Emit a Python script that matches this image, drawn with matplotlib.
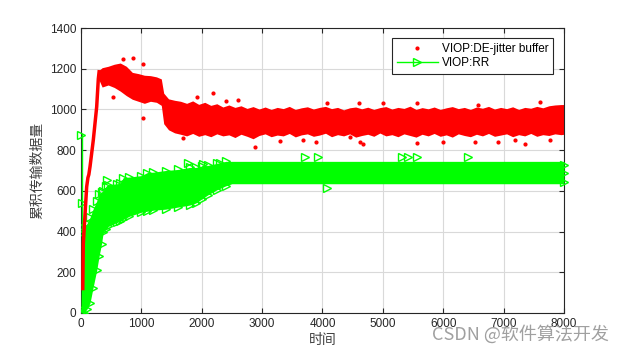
import matplotlib
matplotlib.use('Agg')
import matplotlib.pyplot as plt
from matplotlib.lines import Line2D

plt.rcParams['font.family'] = ['Liberation Sans', 'Noto Sans CJK SC', 'DejaVu Sans']

# red series: steep rise, then a noisy band (upper / lower edge)
rise_x = [30, 38, 60, 94, 115, 130, 150, 204, 260, 287, 300]
rise_y = [120, 340, 450, 620, 665, 680, 720, 850, 1013, 1150, 1185]

red_x = [290, 350, 450, 550, 650, 750, 850, 950, 1050, 1150, 1250, 1330, 1370, 1450, 1550,
         1650, 1750, 1850, 1950, 2050, 2150, 2250, 2350, 2450, 2550, 2650, 2750, 2850, 2950,
         3050, 3150, 3250, 3350, 3450, 3550, 3650, 3750, 3850, 3950, 4050, 4150, 4250, 4350,
         4450, 4550, 4650, 4750, 4850, 4950, 5050, 5150, 5250, 5350, 5450, 5550, 5650, 5750,
         5850, 5950, 6050, 6150, 6250, 6350, 6450, 6550, 6650, 6750, 6850, 6950, 7050, 7150,
         7250, 7350, 7450, 7550, 7650, 7750, 7850, 7950, 8000]
red_hi = [1190, 1205, 1212, 1222, 1228, 1212, 1182, 1176, 1168, 1166, 1160, 1150, 1080, 1052, 1045,
          1040, 1030, 1042, 1025, 1035, 1020, 1028, 1012, 1022, 1010, 1018, 1005, 1014, 1002,
          1012, 1000, 1010, 1004, 1015, 1000, 1008, 1013, 1002, 1010, 1015, 1004, 1010, 998,
          1008, 1012, 1003, 1011, 1000, 1009, 1014, 1002, 1010, 1005, 1016, 1000, 1009, 1003,
          1012, 1000, 1008, 1014, 1004, 1010, 1000, 1012, 1006, 1015, 1002, 1010, 1004, 1013,
          1000, 1010, 1006, 1015, 1008, 1018, 1022, 1024, 1024]
red_lo = [1150, 1110, 1120, 1108, 1090, 1068, 1050, 1040, 1030, 1040, 1035, 1020, 930, 900, 885,
          878, 870, 882, 868, 876, 866, 880, 870, 875, 862, 878, 868, 856, 872, 880, 866, 874,
          870, 882, 865, 875, 880, 868, 874, 883, 866, 876, 870, 880, 864, 872, 878, 868, 884,
          870, 876, 866, 880, 872, 864, 878, 870, 882, 868, 875, 864, 880, 872, 866, 878, 870,
          882, 868, 874, 880, 866, 876, 870, 882, 868, 876, 872, 880, 876, 878]

red_out_x = [700, 866, 1032, 535, 1032, 1694, 1915, 2190, 2604, 2880, 3680, 4068, 4454,
             4608, 4619, 4664, 5558, 5558, 6523, 6578, 7185, 7351, 7765, 3300, 6000, 2400,
             5000, 7600, 3900, 6900]
red_out_y = [1246, 1251, 1223, 1062, 956, 860, 1062, 1079, 1046, 817, 850, 1030, 866,
             1033, 838, 830, 1030, 833, 841, 1022, 850, 830, 850, 845, 840, 1040,
             1032, 1036, 842, 838]

# green series: band between lower / upper edge
green_x = [0, 30, 50, 100, 150, 200, 260, 300, 340, 370, 420, 450, 600, 650, 700, 800, 1000,
           1100, 1200, 1400, 1600, 1800, 1900, 2000, 2100, 2250, 2400, 2500, 2600, 8000]
green_lo = [0, 0, 0, 20, 50, 125, 210, 280, 340, 400, 415, 425, 445, 450, 460, 475, 495,
            500, 505, 510, 520, 530, 540, 560, 580, 605, 625, 635, 635, 635]
green_hi = [20, 400, 420, 440, 470, 510, 550, 585, 595, 600, 625, 630, 635, 638, 665, 668, 675,
            690, 692, 700, 705, 715, 715, 720, 725, 735, 745, 745, 745, 745]

spike_x = [10, 10]
spike_y = [0, 880]

green_out_x = [5, 10, 425, 1777, 2015, 2301, 3709, 3924, 5310, 5414, 5558, 6412, 4068,
               8000, 8000, 8000]
green_out_y = [875, 540, 653, 737, 732, 737, 768, 768, 768, 768, 768, 768, 612,
               727, 686, 645]

red = '#ff0000'
green = '#00ff00'

fig = plt.figure(figsize=(6.24, 3.56), dpi=100)
ax = fig.add_axes([0.1298, 0.1208, 0.774, 0.8005])

ax.fill_between(red_x, red_lo, red_hi, color=red, lw=0, zorder=2)
ax.plot(rise_x, rise_y, color=red, lw=2.5, zorder=4)
ax.plot(red_out_x, red_out_y, '.', color=red, ms=4, zorder=2)

ax.fill_between(green_x, green_lo, green_hi, color=green, lw=0, zorder=3)
ax.plot(spike_x, spike_y, color=green, lw=1, zorder=3)
edge = [i for i, v in enumerate(green_x) if v <= 2400]
ax.plot([green_x[i] for i in edge], [green_lo[i] for i in edge], '>', mfc='none', mec=green,
        ms=6, mew=1, zorder=3)
ax.plot([green_x[i] for i in edge], [green_hi[i] for i in edge], '>', mfc='none', mec=green,
        ms=6, mew=1, zorder=3)
ax.plot(green_out_x, green_out_y, '>', mfc='none', mec=green, ms=6, mew=1, zorder=3,
        clip_on=False)

ax.set_xlim(0, 8000)
ax.set_ylim(0, 1400)
ax.set_xticks(range(0, 8001, 1000))
ax.set_yticks(range(0, 1401, 200))
ax.grid(True, color='#d9d9d9', lw=0.8)
ax.set_axisbelow(True)
ax.tick_params(direction='in', top=True, right=True, labelsize=8.5, colors='#262626',
               length=3.5)
for s in ax.spines.values():
    s.set_color('#262626')
    s.set_linewidth(0.8)

ax.set_xlabel('时间', fontsize=10, color='#404040', labelpad=2,
              family=['Noto Sans CJK SC', 'DejaVu Sans'])
ax.set_ylabel('累积传输数据量', fontsize=10, color='#404040', labelpad=4,
              family=['Noto Sans CJK SC', 'DejaVu Sans'])

handles = [Line2D([], [], ls='none', marker='.', color=red, ms=4),
           Line2D([], [], color=green, lw=1, marker='>', mfc='none', mec=green, ms=6)]
leg = ax.legend(handles, ['VIOP:DE-jitter buffer', 'VIOP:RR'], loc='upper right',
                bbox_to_anchor=(0.977, 0.965), borderaxespad=0, fancybox=False,
                framealpha=1, edgecolor='#262626', fontsize=8.5, handlelength=3.5,
                handletextpad=0.3, borderpad=0.4, labelspacing=0.2)
leg.get_frame().set_linewidth(0.8)

fig.text(0.975, 0.035, 'CSDN @软件算法开发', ha='right', va='bottom', fontsize=13,
         color='#a0a0a0', family=['Noto Sans CJK SC', 'DejaVu Sans'])

fig.savefig('out.png', dpi=100)
